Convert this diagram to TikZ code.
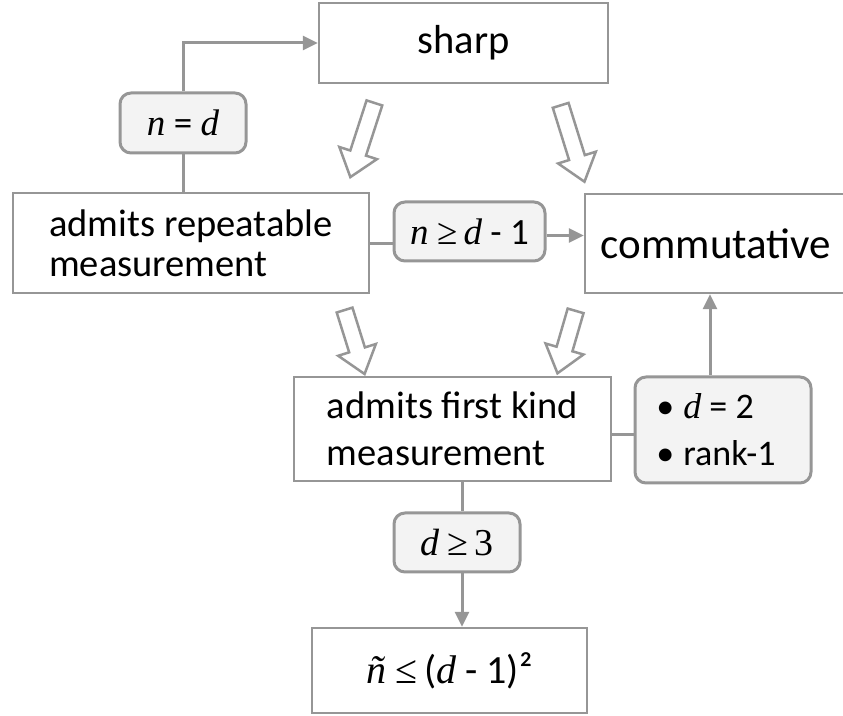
\documentclass[tikz,border=0pt]{standalone}
\usepackage{fontspec}
\setmainfont{Carlito}
\newfontfamily\timesfont{Liberation Serif}
\usetikzlibrary{arrows.meta, positioning, shapes.arrows}
\definecolor{linegray}{RGB}{150,150,150}
\definecolor{condfill}{RGB}{243,243,243}
\newcommand\var[1]{{\timesfont\itshape #1}}
\newcommand\rel[1]{{\timesfont #1}}
\newcommand\bul{•\hspace{9pt}}

\begin{document}
\begin{tikzpicture}[
      x=1pt, y=1pt,
      box/.style={rectangle, draw=linegray, line width=2.5pt, inner sep=0pt, align=left,
                  font=\fontsize{38.5}{40}\selectfont},
      cond/.style={rectangle, rounded corners=11pt, draw=linegray, fill=condfill, line width=3pt,
                   inner sep=0pt, align=left, font=\fontsize{37}{47}\selectfont},
      link/.style={draw=linegray, line width=3pt},
      arrow/.style={link, -{Triangle[length=15pt,width=14pt]}},
      hollow/.style={single arrow, draw=linegray, fill=white, line width=2.5pt, inner sep=0pt,
                     text height=7pt, text depth=7pt, minimum height=#1, minimum width=38pt,
                     single arrow head extend=11.5pt, single arrow tip angle=76,
                     sloped, allow upside down}
    ]
      \useasboundingbox (0,0) rectangle (843,715);
      % boxes
      \node[box, minimum width=289pt, minimum height=80pt, font=\fontsize{40.5}{44}\selectfont] (sharp) at (463.5,672) {sharp};
      \node[box, minimum width=356pt, minimum height=100pt] (rep) at (191,472) {admits repeatable\\measurement};
      \node[box, minimum width=262pt, minimum height=99pt, font=\fontsize{43}{46}\selectfont] (comm) at (716,471.5) {commutative};
      \node[box, minimum width=317pt, minimum height=104pt, font=\fontsize{38.5}{47}\selectfont] (first) at (452.5,286) {admits first kind\\measurement};
      \node[box, minimum width=275pt, minimum height=85pt, font=\fontsize{40}{44}\selectfont] (bound) at (449.5,44.5) {\var{ñ} \rel{≤}\,(\var{d} - 1)²};
      % conditions
      \node[cond, minimum width=126pt, minimum height=60pt] (eqd) at (183,592) {\var{n} = \var{d}};
      \node[cond, minimum width=151pt, minimum height=59pt] (geq) at (469.5,483.5) {\var{n} \rel{≥}\,\var{d} - 1};
      \node[cond, minimum width=176pt, minimum height=106pt, font=\fontsize{36}{47}\selectfont] (small) at (723,285) {\bul\var{d} = 2\\\bul rank-1\rule{14pt}{0pt}};
      \node[cond, minimum width=126pt, minimum height=59pt, font=\fontsize{38}{43}\selectfont] (dgeq) at (457,172.5) {\var{d} \rel{≥}\,\rel{3}};
      % implications
      \coordinate (t1) at (376,617); \coordinate (h1) at (352,543);
      \coordinate (t2) at (559,615); \coordinate (h2) at (583,538);
      \coordinate (t3) at (343,410); \coordinate (h3) at (363,346);
      \coordinate (t4) at (577,409); \coordinate (h4) at (559,347);
      \path (t1) -- node[hollow=78pt] (fat1) {} (h1);
      \path (t2) -- node[hollow=80pt] (fat2) {} (h2);
      \path (t3) -- node[hollow=67pt] (fat3) {} (h3);
      \path (t4) -- node[hollow=65pt] (fat4) {} (h4);
      % connectors
      \draw[arrow] (eqd.north) |- (sharp.west);
      \draw[link] (eqd.south) -- (eqd.south |- rep.north);
      \draw[link] ([yshift=-1pt]rep.east) -- ([yshift=-1pt]rep.east -| geq.west);
      \draw[arrow] ([yshift=-4pt]geq.east) -- ([yshift=-4pt]geq.east -| comm.west);
      \draw[link] ([yshift=-6pt]first.east) -- ([yshift=-6pt]first.east -| small.west);
      \draw[arrow] ([xshift=-13pt]small.north) -- ([xshift=-13pt]small.north |- comm.south);
      \draw[link] ([xshift=5pt]dgeq.north |- first.south) -- ([xshift=5pt]dgeq.north);
      \draw[arrow] ([xshift=5pt]dgeq.south) -- ([xshift=5pt]dgeq.south |- bound.north);
    \end{tikzpicture}
\end{document}
